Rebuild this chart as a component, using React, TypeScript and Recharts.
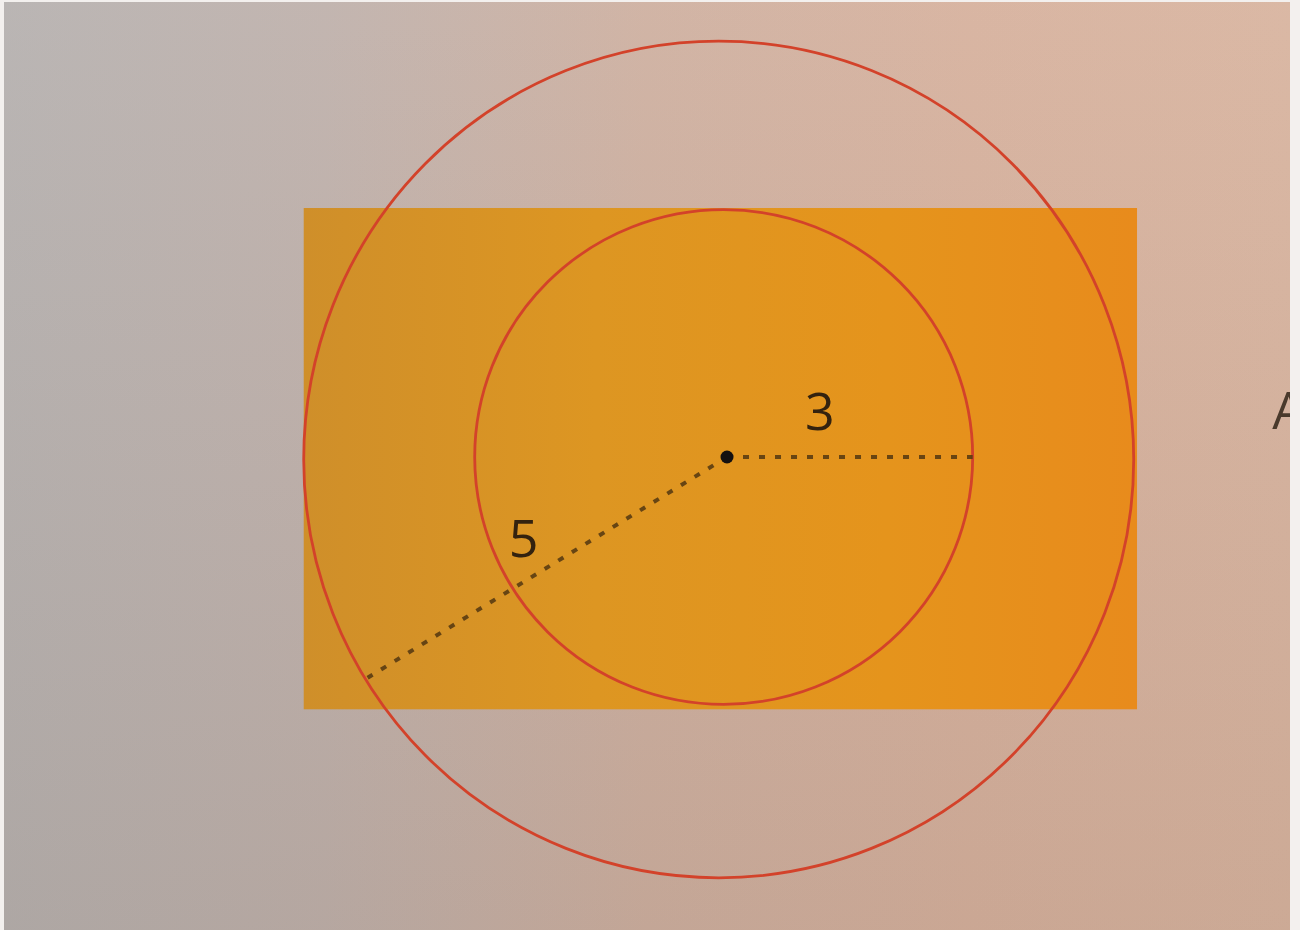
import { ScatterChart, Scatter, XAxis, YAxis, ReferenceArea, ReferenceLine, ReferenceDot } from 'recharts';

// geometry, in diagram units (centre dot = 0,0)
const rectangle = { x1: -5.1, x2: 4.94, y1: -3.04, y2: 3.0 };

const circles = [
  { name: 'inner', cx: -0.04, cy: 0, rx: 3.0, ry: 2.98 },
  { name: 'outer', cx: -0.1, cy: -0.03, rx: 5.0, ry: 5.04 },
];

const centre = { x: 0, y: 0 };

const radii = [
  { name: 'r3', end: { x: 2.96, y: 0 } },
  { name: 'r5', end: { x: -4.33, y: -2.66 } },
];

const labels = [
  { x: 1.12, y: 0.57, text: '3', anchor: 'middle' },
  { x: -2.45, y: -0.96, text: '5', anchor: 'middle' },
  { x: 6.57, y: 0.59, text: 'A', anchor: 'start' },
];

const xDomain = [-8.711, 6.783];
const yDomain = [-5.699, 5.482];

const RED = '#d3422a';

function RectShape({ x, y, width, height }: any) {
  return (
    <g>
      <defs>
        <linearGradient id="orangeFill" x1="0" y1="0" x2="1" y2="0">
          <stop offset="0%" stopColor="#cf8f2a" />
          <stop offset="35%" stopColor="#dd9622" />
          <stop offset="70%" stopColor="#e5941c" />
          <stop offset="100%" stopColor="#e88b1c" />
        </linearGradient>
      </defs>
      <rect x={x} y={y} width={width} height={height} fill="url(#orangeFill)" />
    </g>
  );
}

function CircleShape({ x, y, width, height }: any) {
  return (
    <ellipse
      cx={x + width / 2}
      cy={y + height / 2}
      rx={width / 2}
      ry={height / 2}
      fill="none"
      stroke={RED}
      strokeWidth={2.8}
    />
  );
}

function LabelShape(props: any) {
  const { cx, cy, payload } = props;
  return (
    <text
      x={cx}
      y={cy}
      textAnchor={payload.anchor}
      dominantBaseline="central"
      fontFamily="'Open Sans', 'DejaVu Sans', sans-serif"
      fontSize={52}
      fill={payload.text === 'A' ? '#4a3a2c' : '#33220f'}
    >
      {payload.text}
    </text>
  );
}

export default function App() {
  return (
    <div style={{ position: 'fixed', left: 0, top: 0, width: 1300, height: 930, background: '#f3f0ee' }}>
      <div
        style={{
          position: 'absolute',
          left: 4,
          top: 2,
          width: 1286,
          height: 928,
          background:
            'linear-gradient(180deg, rgba(255,240,230,0.04) 0%, rgba(90,60,40,0.10) 100%), linear-gradient(90deg, #b7b3b2 0%, #c0b3ae 25%, #cfb2a3 50%, #d7b3a0 75%, #d9b6a2 100%)',
        }}
      >
        <ScatterChart width={1286} height={928} margin={{ top: 0, right: 0, bottom: 0, left: 0 }}>
          <XAxis type="number" dataKey="x" domain={xDomain} allowDataOverflow hide />
          <YAxis type="number" dataKey="y" domain={yDomain} allowDataOverflow hide />
          <ReferenceArea
            x1={rectangle.x1}
            x2={rectangle.x2}
            y1={rectangle.y1}
            y2={rectangle.y2}
            ifOverflow="visible"
            shape={RectShape}
          />
          {circles.map((c) => (
            <ReferenceArea
              key={c.name}
              x1={c.cx - c.rx}
              x2={c.cx + c.rx}
              y1={c.cy - c.ry}
              y2={c.cy + c.ry}
              ifOverflow="visible"
              shape={CircleShape}
            />
          ))}
          {radii.map((r) => (
            <ReferenceLine
              key={r.name}
              segment={[centre, r.end]}
              stroke="#5a3c12"
              strokeOpacity={0.9}
              strokeWidth={4}
              strokeDasharray="6 10"
              ifOverflow="visible"
            />
          ))}
          <ReferenceDot x={centre.x} y={centre.y} r={6.5} fill="#141010" stroke="none" ifOverflow="visible" />
          <Scatter data={labels} shape={LabelShape} isAnimationActive={false} />
        </ScatterChart>
      </div>
    </div>
  );
}
